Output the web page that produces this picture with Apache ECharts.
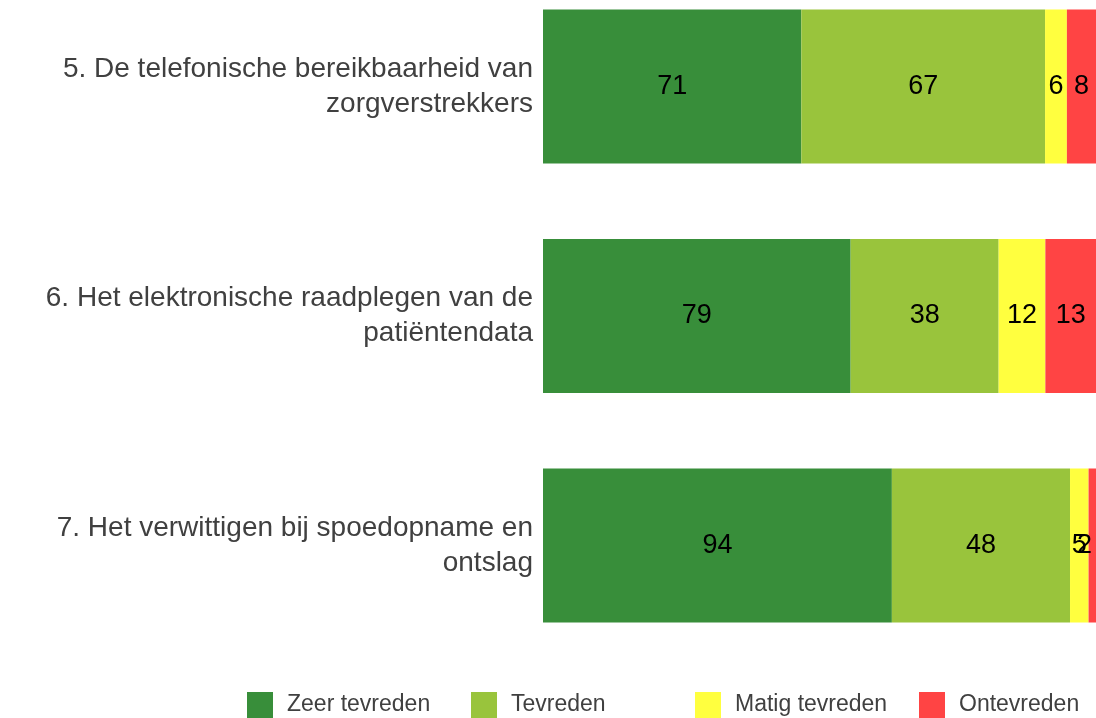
<!DOCTYPE html>
<html><head><meta charset="utf-8">
<script src="https://cdn.jsdelivr.net/npm/echarts@6/dist/echarts.min.js"></script>
<style>html,body{margin:0;padding:0;background:#fff}#c{width:1096px;height:718px}</style>
</head><body><div id="c"></div>
<script>
const categories = [
  "5. De telefonische bereikbaarheid van\nzorgverstrekkers",
  "6. Het elektronische raadplegen van de\npatiëntendata",
  "7. Het verwittigen bij spoedopname en\nontslag"
];
const seriesNames = ["Zeer tevreden", "Tevreden", "Matig tevreden", "Ontevreden"];
const zeerTevreden = [71, 79, 94];
const tevreden = [67, 38, 48];
const matigTevreden = [6, 12, 5];
const ontevreden = [8, 13, 2];
const colors = ["#388E3A", "#99C43C", "#FFFF3F", "#FF4444"];

const raw = [zeerTevreden, tevreden, matigTevreden, ontevreden];
const totals = categories.map((_, i) => raw.reduce((s, a) => s + a[i], 0));
const FONT = 'Liberation Sans, Arial, sans-serif';
const legendLefts = [247, 471, 695, 919];

const chart = echarts.init(document.getElementById('c'), null, {renderer: 'canvas'});
chart.setOption({
  animation: false,
  textStyle: {fontFamily: FONT},
  grid: {left: 543, right: 0, top: 86.5, height: 459, containLabel: false},
  xAxis: {type: 'value', min: 0, max: 100, show: false},
  yAxis: {
    type: 'category', data: categories, inverse: true, boundaryGap: false,
    axisLine: {show: false}, axisTick: {show: false}, splitLine: {show: false},
    axisLabel: {fontSize: 28, color: '#404040', margin: 10, lineHeight: 35, align: 'right',
      padding: [4, 0, 0, 0], fontFamily: FONT}
  },
  legend: seriesNames.map((n, k) => ({
    left: legendLefts[k], top: 692, padding: 0, itemWidth: 26, itemHeight: 26, icon: 'rect',
    data: [n],
    textStyle: {fontSize: 23, color: '#404040', padding: [0, 0, 0, 9], fontFamily: FONT}
  })),
  series: raw.map((arr, k) => ({
    name: seriesNames[k], type: 'bar', stack: 'total', barWidth: 154,
    itemStyle: {color: colors[k]},
    data: arr.map((v, i) => {
      const d = {value: v / totals[i] * 100};
      if (k === 3 && v / totals[i] * 553 < 10) {
        d.label = {position: 'insideRight', distance: 4};
      }
      return d;
    }),
    label: {
      show: true, position: 'inside', color: '#000', fontSize: 27,
      fontFamily: FONT,
      formatter: p => String(arr[p.dataIndex])
    }
  }))
});
</script></body></html>
